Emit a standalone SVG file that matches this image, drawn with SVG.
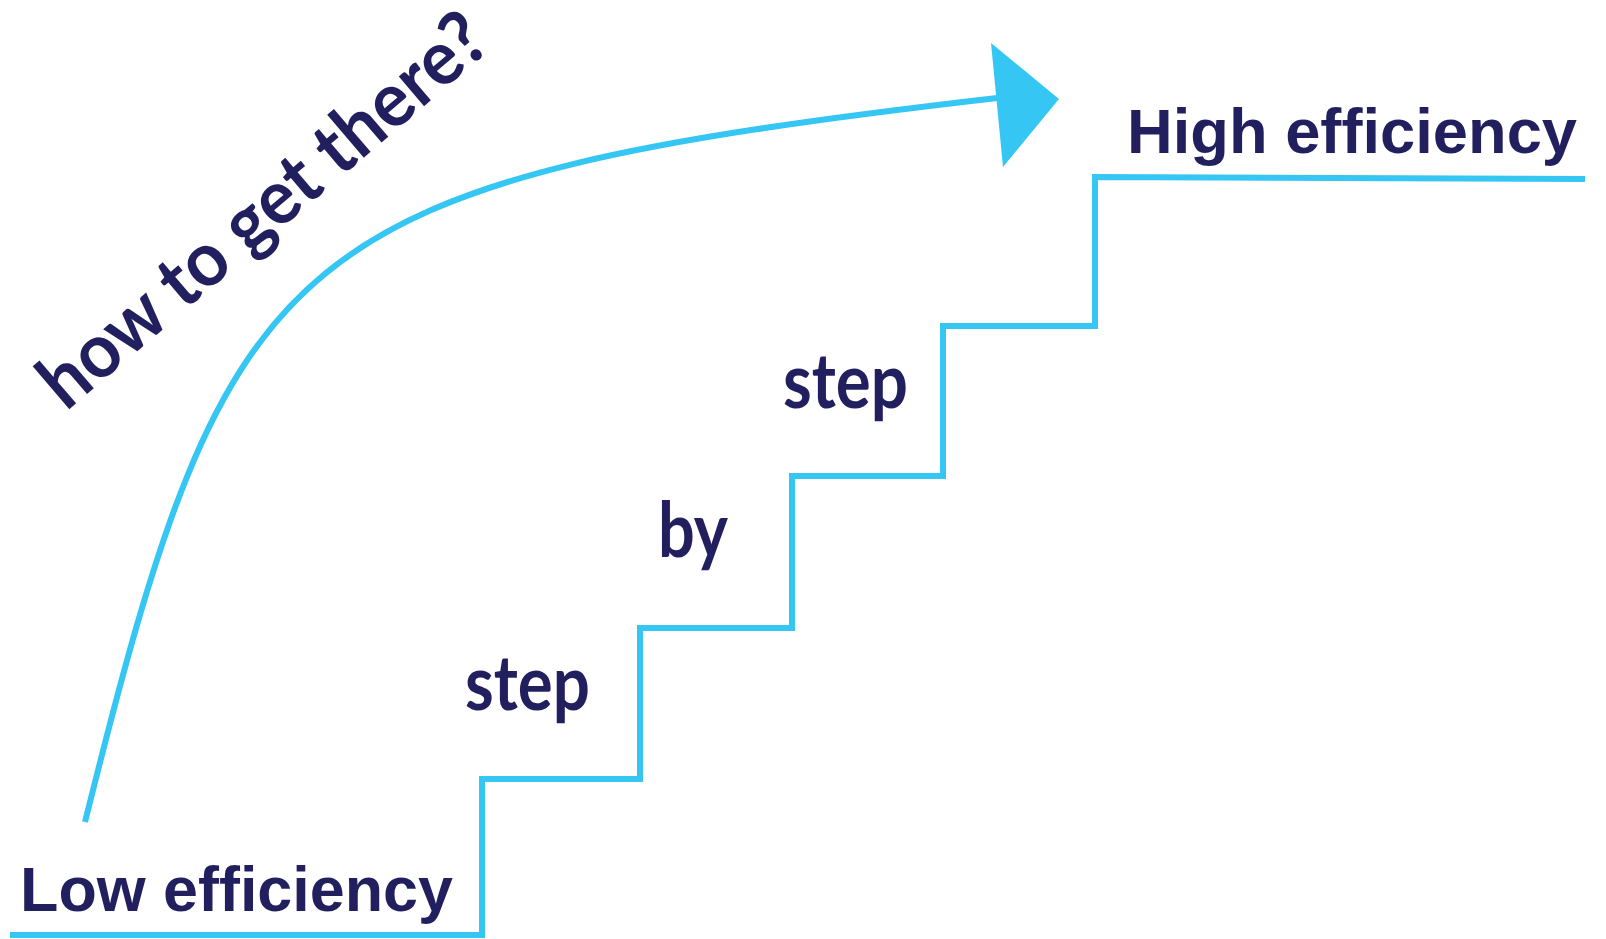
<svg xmlns="http://www.w3.org/2000/svg" width="1606" height="939" viewBox="0 0 1606 939">
  <style>
    .line { fill: none; stroke: #35C6F4; stroke-width: 6; stroke-linejoin: miter; }
    .arr { fill: #35C6F4; }
    .lbl { fill: #221F5F; font-family: "Liberation Sans", Arial, sans-serif; font-weight: 700; font-size: 63px; }
    .word { fill: #221F5F; font-family: Lato, "Open Sans", sans-serif; font-weight: 700; font-size: 76px; }
  </style>
  <g id="connectors">
    <path id="stairs" class="line" d="M10,935 H482 V779 H640 V628 H792 V476 H943 V326 H1095 V177 L1585,179"/>
    <path id="curve" class="line" d="M85,822 C230,240 279,181 997,98"/>
    <polygon class="arr" points="991,43 1059,99 1003,167"/>
  </g>
  <g id="low">
    <text class="lbl" x="20" y="911" textLength="433" lengthAdjust="spacingAndGlyphs">Low efficiency</text>
  </g>
  <g id="high">
    <text class="lbl" x="1127" y="153" textLength="450" lengthAdjust="spacingAndGlyphs">High efficiency</text>
  </g>
  <g id="step1">
    <text class="word" x="465" y="710" textLength="125" lengthAdjust="spacingAndGlyphs">step</text>
  </g>
  <g id="by">
    <text class="word" x="658" y="557" textLength="70" lengthAdjust="spacingAndGlyphs">by</text>
  </g>
  <g id="step2">
    <text class="word" x="783" y="408" textLength="125" lengthAdjust="spacingAndGlyphs">step</text>
  </g>
  <g id="question">
    <text class="word" transform="translate(66,412) rotate(-40.5)" x="0" y="0" textLength="562" lengthAdjust="spacingAndGlyphs">how to get there?</text>
  </g>
</svg>
